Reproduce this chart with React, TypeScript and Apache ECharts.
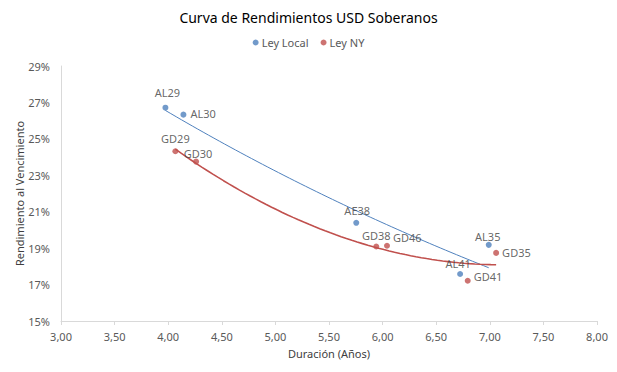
import React, { useEffect, useRef } from "react";
import * as echarts from "echarts";

const localNames = ["AL29", "AL30", "AE38", "AL35", "AL41"];
const localDur = [3.974, 4.142, 5.754, 6.99, 6.723];
const localYield = [26.71, 26.33, 20.39, 19.18, 17.58];

const nyNames = ["GD29", "GD30", "GD38", "GD46", "GD35", "GD41"];
const nyDur = [4.067, 4.26, 5.941, 6.041, 7.059, 6.794];
const nyYield = [24.32, 23.75, 19.09, 19.13, 18.74, 17.21];

const xTicks = [3, 3.5, 4, 4.5, 5, 5.5, 6, 6.5, 7, 7.5, 8];
const yTicks = [15, 17, 19, 21, 23, 25, 27, 29];

const BLUE = "#4F81BD";
const RED = "#C0504D";
const FONT = "Noto Sans";

// label placement per point (position + pixel offset)
const localLabelPos: Record<string, any> = {
  AL29: { position: "top", offset: [2, -3] },
  AL30: { position: "right", offset: [0, -1] },
  AE38: { position: "top", offset: [1, 0] },
  AL35: { position: "top", offset: [-1, 4] },
  AL41: { position: "top", offset: [-2, 2] },
};
const nyLabelPos: Record<string, any> = {
  GD29: { position: "top", offset: [0, 0] },
  GD30: { position: "top", offset: [2, 4] },
  GD38: { position: "top", offset: [0, 1] },
  GD46: { position: "right", offset: [-1, -8] },
  GD35: { position: "right", offset: [-1, 0] },
  GD41: { position: "right", offset: [-1, -4] },
};

function sampleRange(xs: number[], f: (x: number) => number) {
  const lo = Math.min(...xs), hi = Math.max(...xs);
  const pts: number[][] = [];
  const steps = 60;
  for (let k = 0; k <= steps; k++) {
    const x = lo + ((hi - lo) * k) / steps;
    pts.push([x, f(x)]);
  }
  return pts;
}

// Exponential trendline (least squares on ln y)
function expFit(xs: number[], ys: number[]) {
  const n = xs.length;
  const ly = ys.map((y) => Math.log(y));
  const mx = xs.reduce((a, b) => a + b, 0) / n;
  const my = ly.reduce((a, b) => a + b, 0) / n;
  let sxy = 0, sxx = 0;
  for (let i = 0; i < n; i++) {
    sxy += (xs[i] - mx) * (ly[i] - my);
    sxx += (xs[i] - mx) * (xs[i] - mx);
  }
  const b = sxy / sxx;
  const a = my - b * mx;
  return sampleRange(xs, (x) => Math.exp(a + b * x));
}

// Polynomial (order 2) trendline
function quadFit(xs: number[], ys: number[]) {
  const n = xs.length;
  let s1 = 0, s2 = 0, s3 = 0, s4 = 0, t0 = 0, t1 = 0, t2 = 0;
  for (let i = 0; i < n; i++) {
    const x = xs[i], y = ys[i];
    s1 += x; s2 += x * x; s3 += x * x * x; s4 += x * x * x * x;
    t0 += y; t1 += x * y; t2 += x * x * y;
  }
  const A = [
    [n, s1, s2, t0],
    [s1, s2, s3, t1],
    [s2, s3, s4, t2],
  ];
  for (let i = 0; i < 3; i++) {
    let p = i;
    for (let r = i + 1; r < 3; r++) if (Math.abs(A[r][i]) > Math.abs(A[p][i])) p = r;
    [A[i], A[p]] = [A[p], A[i]];
    for (let r = 0; r < 3; r++) {
      if (r === i) continue;
      const f = A[r][i] / A[i][i];
      for (let c = i; c < 4; c++) A[r][c] -= f * A[i][c];
    }
  }
  const c0 = A[0][3] / A[0][0], c1 = A[1][3] / A[1][1], c2 = A[2][3] / A[2][2];
  return sampleRange(xs, (x) => c0 + c1 * x + c2 * x * x);
}

function pointData(names: string[], xs: number[], ys: number[], pos: Record<string, any>) {
  return names.map((nm, i) => ({
    value: [xs[i], ys[i]],
    name: nm,
    label: pos[nm],
  }));
}

export default function App() {
  const ref = useRef<HTMLDivElement>(null);
  useEffect(() => {
    if (!ref.current) return;
    const chart = echarts.init(ref.current, null, { renderer: "svg" });
    const labelStyle = {
      show: true,
      formatter: (p: any) => p.name,
      color: "#404040",
      fontSize: 11,
      fontFamily: FONT,
      distance: 4,
    };
    chart.setOption({
      animation: false,
      backgroundColor: "#ffffff",
      title: {
        text: "Curva de Rendimientos USD Soberanos",
        left: "center",
        top: 5,
        textStyle: { fontFamily: FONT, fontSize: 14, fontWeight: "normal", color: "#000000" },
      },
      legend: {
        top: 32,
        left: "center",
        itemWidth: 6,
        itemHeight: 6,
        itemGap: 12,
        icon: "circle",
        textStyle: { fontFamily: FONT, fontSize: 11, color: "#595959", padding: [0, 0, 0, -2] },
        data: ["Ley Local", "Ley NY"],
      },
      grid: { left: 61, right: 20, top: 66, bottom: 51 },
      xAxis: {
        type: "value",
        min: 3,
        max: 8,
        interval: 0.5,
        name: "Duración (Años)",
        nameLocation: "middle",
        nameGap: 27,
        nameTextStyle: { fontFamily: FONT, fontSize: 11, color: "#404040" },
        axisLine: { show: true, lineStyle: { color: "#D9D9D9" } },
        axisTick: { show: true, length: 4, lineStyle: { color: "#D9D9D9" } },
        axisLabel: {
          fontFamily: FONT,
          fontSize: 11,
          color: "#595959",
          margin: 10,
          formatter: (v: number) => (xTicks.includes(v) ? v.toFixed(2).replace(".", ",") : ""),
        },
        splitLine: { show: false },
      },
      yAxis: {
        type: "value",
        min: 15,
        max: 29,
        interval: 2,
        name: "Rendimiento al Vencimiento",
        nameLocation: "middle",
        nameGap: 36,
        nameMoveOverlap: false,
        nameTextStyle: { fontFamily: FONT, fontSize: 11, color: "#404040" },
        axisLine: { show: true, lineStyle: { color: "#D9D9D9" } },
        axisTick: { show: false },
        axisLabel: {
          fontFamily: FONT,
          fontSize: 11,
          color: "#595959",
          margin: 11,
          formatter: (v: number) => (yTicks.includes(v) ? `${v}%` : ""),
        },
        splitLine: { show: false },
      },
      series: [
        {
          name: "Ley Local",
          type: "scatter",
          symbolSize: 6,
          itemStyle: { color: BLUE },
          data: pointData(localNames, localDur, localYield, localLabelPos),
          label: labelStyle,
          z: 3,
        },
        {
          name: "Ley NY",
          type: "scatter",
          symbolSize: 6,
          itemStyle: { color: RED },
          data: pointData(nyNames, nyDur, nyYield, nyLabelPos),
          label: labelStyle,
          z: 3,
        },
        {
          name: "trend-local",
          type: "line",
          data: expFit(localDur, localYield),
          showSymbol: false,
          symbol: "none",
          lineStyle: { color: BLUE, width: 1 },
          silent: true,
          z: 2,
        },
        {
          name: "trend-ny",
          type: "line",
          data: quadFit(nyDur, nyYield),
          showSymbol: false,
          symbol: "none",
          lineStyle: { color: RED, width: 1.6 },
          silent: true,
          z: 2,
        },
      ],
    });
    return () => chart.dispose();
  }, []);
  return (
    <div
      ref={ref}
      style={{ position: "fixed", left: 0, top: 0, width: 617, height: 372 }}
    />
  );
}
